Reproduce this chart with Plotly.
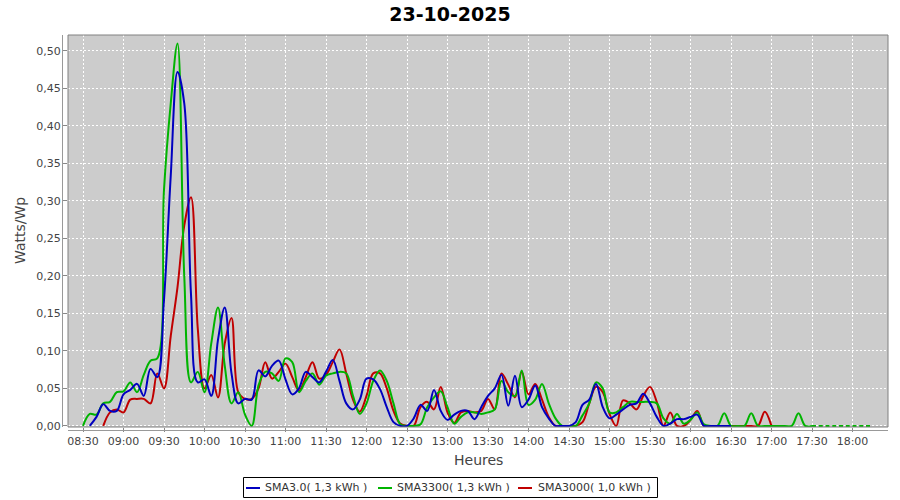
import pandas as pd
import plotly.graph_objects as go

# 5-minute samples from 08:30 to 18:15
times = pd.date_range("2025-10-23 08:30", "2025-10-23 18:15", freq="5min")

sma30 = [  # blue  SMA3.0
    None, 0, 0.012, 0.029, 0.02, 0.02,
    0.042, 0.048, 0.056, 0.04, 0.076, 0.065, 0.168, 0.334, 0.472, 0.43, 0.175, 0.058,
    0.062, 0.04, 0.115, 0.158, 0.07, 0.03, 0.036, 0.035, 0.074, 0.066, 0.08, 0.087,
    0.062, 0.042, 0.05, 0.072, 0.065, 0.058, 0.072, 0.088, 0.06, 0.03, 0.022, 0.035,
    0.063, 0.062, 0.049, 0.025, 0.005, 0, 0, 0.01, 0.028, 0.02, 0.048, 0.02,
    0.008, 0.015, 0.02, 0.02, 0.009, 0.025, 0.04, 0.05, 0.068, 0.027, 0.067, 0.025,
    0.035, 0.054, 0.025, 0.01, 0, 0, 0, 0.005, 0.028, 0.035, 0.056, 0.025,
    0.01, 0.015, 0.022, 0.028, 0.03, 0.043, 0.03, 0.012, 0, 0.003, 0.009, 0.009,
    0.012, 0.015, 0, 0, 0, 0, 0, None, None, None, None, None,
    None, None, None, None, None, None, None, None, None, None, None, None,
    None, None, None, None,
]

sma3300 = [  # green SMA3300
    0, 0.016, 0.015, 0.03, 0.032, 0.045,
    0.046, 0.058, 0.045, 0.068, 0.087, 0.09, 0.315, 0.43, 0.51, 0.20, 0.058, 0.072,
    0.045, 0.11, 0.158, 0.08, 0.03, 0.045, 0.015, 0.0, 0.054, 0.072, 0.07, 0.06,
    0.09, 0.085, 0.045, 0.06, 0.07, 0.055, 0.067, 0.07, 0.072, 0.07, 0.04, 0.016,
    0.03, 0.06, 0.074, 0.06, 0.03, 0.002, 0, 0, 0.002, 0.025, 0.038, 0.046,
    0.025, 0.003, 0.012, 0.018, 0.018, 0.016, 0.018, 0.022, 0.06, 0.045, 0.04, 0.074,
    0.028, 0.035, 0.056, 0.03, 0.01, 0, 0, 0, 0.014, 0.03, 0.058, 0.05,
    0.018, 0.018, 0.025, 0.032, 0.032, 0.032, 0.032, 0.03, 0.01, 0.003, 0.016, 0.003,
    0.008, 0.018, 0.002, 0, 0, 0.017, 0, 0, 0, 0.017, 0, 0,
    0, 0, 0, 0, 0.017, 0, 0, 0, 0, 0, 0, 0,
    0, 0, 0, 0,
]

sma3000 = [  # red SMA3000
    None, None, None, 0, 0.018, 0.022,
    0.018, 0.035, 0.036, 0.036, 0.03, 0.07, 0.05, 0.12, 0.185, 0.267, 0.305, 0.13,
    0.05, 0.068, 0.038, 0.11, 0.144, 0.045, 0.036, 0.036, 0.05, 0.085, 0.063, 0.072,
    0.083, 0.065, 0.047, 0.065, 0.085, 0.063, 0.068, 0.085, 0.102, 0.07, 0.035, 0.019,
    0.04, 0.07, 0.07, 0.05, 0.02, 0.003, 0, 0, 0.025, 0.032, 0.022, 0.052,
    0.018, 0.004, 0.018, 0.02, 0.018, 0.02, 0.036, 0.022, 0.07, 0.055, 0.038, 0.072,
    0.042, 0.056, 0.035, 0.012, 0, 0, 0, 0, 0.005, 0.03, 0.052, 0.045,
    0.016, 0, 0.034, 0.03, 0.022, 0.04, 0.052, 0.032, 0, 0.018, 0, 0,
    0.008, 0.02, 0, 0, 0, 0, 0, 0, 0, 0, 0, 0.019,
    0, None, None, None, None, None, None, None, None, None, None, None,
    None, None, None, None,
]

series_names = ["SMA3.0( 1,3 kWh )", "SMA3300( 1,3 kWh )", "SMA3000( 1,0 kWh )"]
colors = ["#0000c0", "#00b400", "#c00000"]
title_text = "23-10-2025"
green_tail_start = 108  # index of 17:30

L, R, T, B = 68, 888, 35, 427
W, H = 900, 500
pw, ph = R - L, B - T


def px(xp):
    return (xp - L) / pw


def py(yp):
    return (B - yp) / ph


fig = go.Figure()
# red first (bottom), then green, then blue on top
fig.add_trace(go.Scatter(x=times, y=sma3000, mode="lines", name=series_names[2],
                         line=dict(color=colors[2], width=2, shape="spline", smoothing=1)))
fig.add_trace(go.Scatter(x=times[:green_tail_start + 1], y=sma3300[:green_tail_start + 1],
                         mode="lines", name=series_names[1],
                         line=dict(color=colors[1], width=2, shape="spline", smoothing=1)))
fig.add_trace(go.Scatter(x=times[green_tail_start:], y=sma3300[green_tail_start:],
                         mode="lines", name=series_names[1],
                         line=dict(color=colors[1], width=2, dash="4px,2.75px")))
fig.add_trace(go.Scatter(x=times, y=sma30, mode="lines", name=series_names[0],
                         line=dict(color=colors[0], width=2, shape="spline", smoothing=1)))

fig.update_layout(
    width=W, height=H,
    margin=dict(l=L, r=W - R, t=T, b=H - B, autoexpand=False),
    paper_bgcolor="white",
    plot_bgcolor="#cccccc",
    separators=",.",
    font=dict(family="DejaVu Sans", size=11, color="#444444"),
    title=dict(text="<b>" + title_text + "</b>", x=0.5, xanchor="center",
               y=1 - 14 / H, yanchor="middle",
               font=dict(family="DejaVu Sans", size=19, color="black")),
    showlegend=False,
    hovermode=False,
)

fig.update_xaxes(
    type="date", automargin=False,
    range=["2025-10-23 08:18:53", "2025-10-23 18:26:18"],
    tick0="2025-10-23 08:30", dtick=30 * 60 * 1000, tickformat="%H:%M",
    showgrid=True, gridcolor="white", gridwidth=1, griddash="2px,2px",
    zeroline=False, showline=False,
    ticks="outside", ticklen=4, tickcolor="#888888",
    tickfont=dict(family="DejaVu Sans", size=11, color="#444444"),
)
fig.update_yaxes(
    automargin=False,
    range=[-0.0015, (B - T) / 750 - 0.0015],
    tick0=0, dtick=0.05, tickformat=".2f",
    showgrid=True, gridcolor="white", gridwidth=1, griddash="2px,2px",
    zeroline=False, showline=False,
    ticks="outside", ticklen=4, tickcolor="#888888",
    tickfont=dict(family="DejaVu Sans", size=11, color="#444444"),
)

# plot border and offset axis lines
fig.add_shape(type="rect", xref="paper", yref="paper", x0=0, x1=1, y0=0, y1=1,
              line=dict(color="#808080", width=1), layer="above")
fig.add_shape(type="line", xref="paper", yref="paper",
              x0=px(62.5), x1=px(62.5), y0=0, y1=1,
              line=dict(color="#999999", width=1))
fig.add_shape(type="line", xref="paper", yref="paper",
              x0=0, x1=1, y0=py(430.5), y1=py(430.5),
              line=dict(color="#999999", width=1))

# axis titles
fig.add_annotation(text="Heures", xref="paper", yref="paper",
                   x=px(478), y=py(460), showarrow=False,
                   xanchor="center", yanchor="middle",
                   font=dict(family="DejaVu Sans", size=14, color="#444444"))
fig.add_annotation(text="Watts/Wp", xref="paper", yref="paper",
                   x=px(20), y=py(231), showarrow=False, textangle=-90,
                   xanchor="center", yanchor="middle",
                   font=dict(family="DejaVu Sans", size=14, color="#444444"))

# legend box (JFreeChart style), entries in series order
legend_y = 488
fig.add_shape(type="rect", xref="paper", yref="paper",
              x0=px(243.5), x1=px(657.5), y0=py(477.5), y1=py(497.5),
              line=dict(color="black", width=1), fillcolor="white")
sample_x = [246, 378, 518]
text_x = [263, 395, 536]
for name, col, sx, tx in zip(series_names, colors, sample_x, text_x):
    fig.add_shape(type="line", xref="paper", yref="paper",
                  x0=px(sx), x1=px(sx + 14), y0=py(legend_y), y1=py(legend_y),
                  line=dict(color=col, width=2))
    fig.add_annotation(text=name, xref="paper", yref="paper",
                       x=px(tx), y=py(legend_y), showarrow=False,
                       xanchor="left", yanchor="middle",
                       font=dict(family="DejaVu Sans", size=11, color="#333333"))

fig.write_html("out.html", config={"displayModeBar": False},
               post_script="document.body.style.margin='0';document.body.style.overflow='hidden';")
